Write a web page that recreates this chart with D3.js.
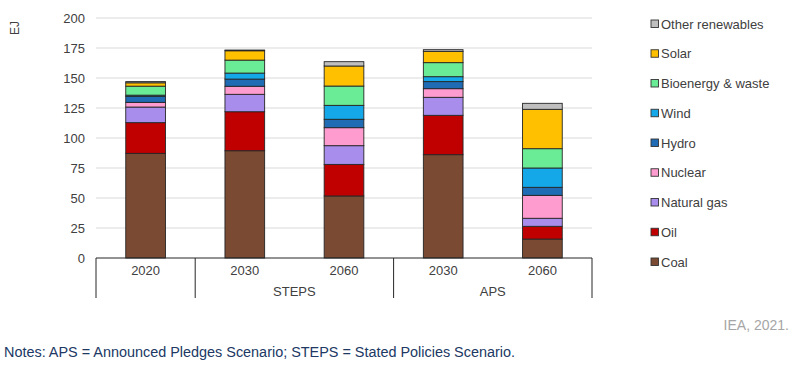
<!DOCTYPE html>
<html><head><meta charset="utf-8">
<script src="https://cdn.jsdelivr.net/npm/d3@7"></script>
<style>body{margin:0;background:#fff;}svg{display:block;font-family:"Liberation Sans",Arial,sans-serif;}</style>
</head><body>
<svg id="c" width="800" height="368"></svg>
<script>
const categories = ["2020","2030","2060","2030","2060"];
const groups = ["","STEPS","STEPS","APS","APS"];
const seriesNames = ["Coal","Oil","Natural gas","Nuclear","Hydro","Wind","Bioenergy & waste","Solar","Other renewables"];
const coal    = [87.2, 89.4, 51.7, 86.1, 15.8];
const oil     = [25.6, 32.5, 26.3, 32.8, 10.6];
const gas     = [13.0, 14.5, 15.6, 15.0, 6.7];
const nuclear = [3.9, 6.7, 15.0, 7.2, 19.1];
const hydro   = [5.0, 6.0, 7.0, 5.9, 6.7];
const wind    = [1.0, 5.0, 11.6, 4.1, 16.1];
const bio     = [7.5, 10.8, 16.1, 11.7, 16.1];
const solar   = [2.8, 7.8, 16.7, 9.4, 32.8];
const other   = [1.0, 0.6, 3.6, 1.4, 5.0];
const yTicks = [0,25,50,75,100,125,150,175,200];
const colors = ["#7b4a32","#c00000","#a98ded","#ff9ccf","#1f6cb4","#14a8e8","#6aeb95","#ffc000","#bfbfbf"];

const seriesVals = [coal,oil,gas,nuclear,hydro,wind,bio,solar,other];
const rows = categories.map((c,i)=>{const r={idx:i}; seriesNames.forEach((s,k)=>r[s]=seriesVals[k][i]); return r;});
const stack = d3.stack().keys(seriesNames)(rows);

const svg = d3.select("#c");
const x = d3.scaleBand().domain(d3.range(categories.length)).range([96,592]).paddingInner(0.6).paddingOuter(0.3);
const y = d3.scaleLinear().domain([0,200]).range([258,18]);

// gridlines
svg.append("g").selectAll("line").data(yTicks.filter(t=>t>0)).join("line")
  .attr("x1",96).attr("x2",592).attr("y1",d=>y(d)).attr("y2",d=>y(d))
  .attr("stroke","#d9d9d9").attr("stroke-width",1);

// y labels
svg.append("g").selectAll("text").data(yTicks).join("text")
  .attr("x",85).attr("y",d=>y(d)).attr("dy","0.35em").attr("text-anchor","end")
  .attr("font-size",13).attr("fill","#404040").text(d=>d);

svg.append("text").attr("transform","translate(19,28) rotate(-90)").attr("text-anchor","middle")
  .attr("font-size",12).attr("fill","#404040").text("EJ");

// bars
svg.append("g").selectAll("g").data(stack).join("g").attr("fill",(d,i)=>colors[i])
  .selectAll("rect").data(d=>d).join("rect")
  .attr("x",d=>x(d.data.idx)).attr("width",x.bandwidth())
  .attr("y",d=>y(d[1])).attr("height",d=>y(d[0])-y(d[1]))
  .attr("stroke","#262626").attr("stroke-width",0.9);

// category axis
const step = x.step(), half = step*x.paddingInner()/2;
svg.append("line").attr("x1",96).attr("x2",592).attr("y1",258).attr("y2",258).attr("stroke","#262626").attr("stroke-width",1);
const seps = [0,1,3].map(i=>x(i)-half).concat([x(4)+x.bandwidth()+half]);
svg.append("g").selectAll("line").data(seps).join("line")
  .attr("x1",d=>d).attr("x2",d=>d).attr("y1",258).attr("y2",298).attr("stroke","#262626").attr("stroke-width",1);
svg.append("g").selectAll("text").data(categories).join("text")
  .attr("x",(d,i)=>x(i)+x.bandwidth()/2).attr("y",275).attr("text-anchor","middle")
  .attr("font-size",13).attr("fill","#404040").text(d=>d);
const grpNames = ["STEPS","APS"];
svg.append("g").selectAll("text").data(grpNames).join("text")
  .attr("x",g=>{const ids=d3.range(groups.length).filter(i=>groups[i]===g);return (x(ids[0])+x(ids[ids.length-1])+x.bandwidth())/2;})
  .attr("y",296).attr("text-anchor","middle").attr("font-size",13).attr("fill","#404040").text(d=>d);

// legend
const legOrder = seriesNames.map((s,i)=>i).reverse();
const lg = svg.append("g").selectAll("g").data(legOrder).join("g")
  .attr("transform",(d,j)=>`translate(651,${24+j*29.75})`);
lg.append("rect").attr("x",0).attr("y",-4).attr("width",7.5).attr("height",7.5)
  .attr("fill",d=>colors[d]).attr("stroke","#333").attr("stroke-width",0.9);
lg.append("text").attr("x",10).attr("y",0).attr("dy","0.35em").attr("font-size",13).attr("fill","#404040").text(d=>seriesNames[d]);

svg.append("text").attr("x",789).attr("y",330).attr("text-anchor","end").attr("font-size",14).attr("fill","#a6a6a6").text("IEA, 2021.");
svg.append("text").attr("x",4).attr("y",357).attr("font-size",14).attr("fill","#203864")
  .attr("textLength",511).attr("lengthAdjust","spacingAndGlyphs")
  .text("Notes: APS = Announced Pledges Scenario; STEPS = Stated Policies Scenario.");
</script>
</body></html>
